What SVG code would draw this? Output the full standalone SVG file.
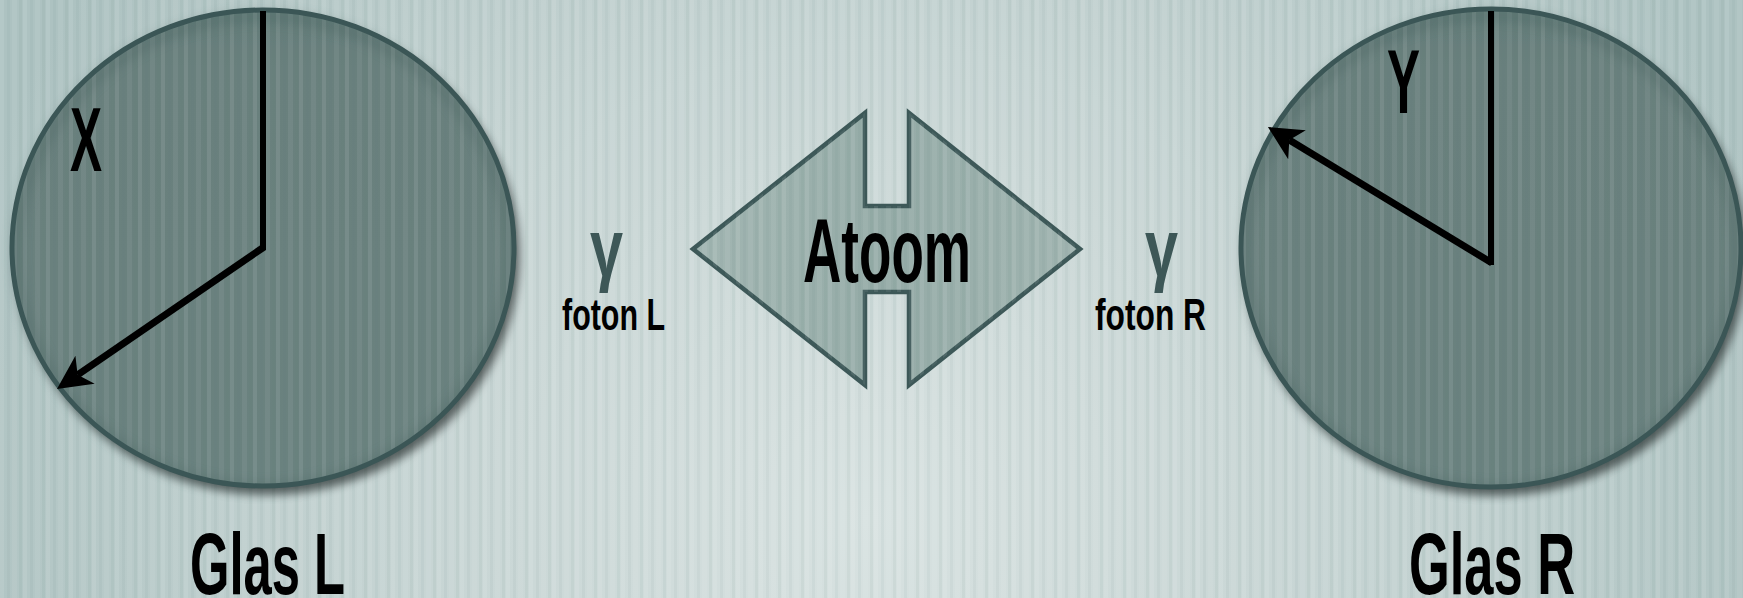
<svg xmlns="http://www.w3.org/2000/svg" width="1743" height="598" viewBox="0 0 1743 598">
<style>
.lbl{font-family:"Liberation Sans","DejaVu Sans",sans-serif;font-weight:bold;fill:#000}
.gam{font-family:"Liberation Sans","DejaVu Sans",sans-serif;font-weight:bold;fill:#3d5757}
.glass{stroke:#3b5656;stroke-width:5}
.hand{stroke:#000;fill:none;stroke-linecap:butt}
</style>
<defs>
<radialGradient id="bg" cx="870" cy="520" r="950" gradientUnits="userSpaceOnUse">
<stop offset="0" stop-color="#d8e2e1"/>
<stop offset="0.5" stop-color="#c6d4d3"/>
<stop offset="1" stop-color="#adc2c1"/>
</radialGradient>
<pattern id="stripes" width="23" height="10" patternUnits="userSpaceOnUse">
<rect x="0" y="0" width="4" height="10" fill="#ffffff" opacity="0.09"/>
<rect x="7" y="0" width="3" height="10" fill="#5a7a78" opacity="0.06"/>
<rect x="12" y="0" width="5" height="10" fill="#ffffff" opacity="0.06"/>
<rect x="19" y="0" width="3" height="10" fill="#5a7a78" opacity="0.07"/>
</pattern>
<linearGradient id="glassFill" x1="0" y1="0" x2="0" y2="1">
<stop offset="0" stop-color="#637b78"/>
<stop offset="0.12" stop-color="#69807d"/>
<stop offset="1" stop-color="#6b827f"/>
</linearGradient>
<linearGradient id="atomFill" x1="0" y1="0" x2="1" y2="0">
<stop offset="0" stop-color="#a2b6b2"/>
<stop offset="0.5" stop-color="#95aba7"/>
<stop offset="1" stop-color="#a0b4b0"/>
</linearGradient>
<filter id="shadow" x="-10%" y="-10%" width="125%" height="125%">
<feGaussianBlur in="SourceAlpha" stdDeviation="5"/>
<feOffset dx="5" dy="8" result="b"/>
<feComponentTransfer><feFuncA type="linear" slope="0.55"/></feComponentTransfer>
<feMerge><feMergeNode/><feMergeNode in="SourceGraphic"/></feMerge>
</filter>
<filter id="inner" x="-5%" y="-5%" width="110%" height="110%">
<feGaussianBlur stdDeviation="6"/>
</filter>
<marker id="head" markerUnits="userSpaceOnUse" markerWidth="60" markerHeight="60" refX="0" refY="0" orient="auto" overflow="visible" viewBox="-20 -30 60 60">
<path d="M25,0 L-9,-17 L0,0 L-9,17 Z" fill="#000"/>
</marker>
</defs>
<rect width="1743" height="598" fill="url(#bg)"/>
<rect width="1743" height="598" fill="url(#stripes)"/>

<g id="glas-l">
<g filter="url(#shadow)">
<ellipse cx="263" cy="248" rx="251" ry="238" fill="url(#glassFill)"/>
</g>
<ellipse cx="263" cy="248" rx="251" ry="238" fill="url(#stripes)"/>
<ellipse cx="263" cy="252" rx="246" ry="236" fill="none" stroke="#3f5a58" stroke-width="8" opacity="0.35" filter="url(#inner)"/>
<ellipse cx="263" cy="248" rx="251" ry="238" fill="none" class="glass"/>
<text class="lbl" x="70" y="171" font-size="90" textLength="32" lengthAdjust="spacingAndGlyphs">X</text>
</g>

<g id="glas-r">
<g filter="url(#shadow)">
<ellipse cx="1491" cy="248" rx="250" ry="239" fill="url(#glassFill)"/>
</g>
<ellipse cx="1491" cy="248" rx="250" ry="239" fill="url(#stripes)"/>
<ellipse cx="1491" cy="252" rx="245" ry="237" fill="none" stroke="#3f5a58" stroke-width="8" opacity="0.35" filter="url(#inner)"/>
<ellipse cx="1491" cy="248" rx="250" ry="239" fill="none" class="glass"/>
<text class="lbl" x="1387" y="113" font-size="90" textLength="33" lengthAdjust="spacingAndGlyphs">Y</text>
</g>

<g id="atoom">
<path d="M693,249 L865,113 L865,206 L909,206 L909,113 L1080,249 L909,385 L909,292 L865,292 L865,385 Z" fill="url(#atomFill)" stroke="#3d5858" stroke-width="4.5" stroke-linejoin="miter"/>
<path d="M693,249 L865,113 L865,206 L909,206 L909,113 L1080,249 L909,385 L909,292 L865,292 L865,385 Z" fill="url(#stripes)"/>
<text class="lbl" x="803" y="282" font-size="91" textLength="168" lengthAdjust="spacingAndGlyphs">Atoom</text>
</g>

<g id="foton-l">
<text class="gam" x="590" y="276" font-size="82" textLength="33" lengthAdjust="spacingAndGlyphs">γ</text>
<text class="lbl" x="562" y="330" font-size="44" textLength="103" lengthAdjust="spacingAndGlyphs">foton L</text>
</g>

<g id="foton-r">
<text class="gam" x="1145" y="276" font-size="82" textLength="33" lengthAdjust="spacingAndGlyphs">γ</text>
<text class="lbl" x="1095" y="330" font-size="44" textLength="111" lengthAdjust="spacingAndGlyphs">foton R</text>
</g>

<g id="label-glas-l">
<text class="lbl" x="190" y="594" font-size="87" textLength="155" lengthAdjust="spacingAndGlyphs">Glas L</text>
</g>
<g id="label-glas-r">
<text class="lbl" x="1409" y="594" font-size="87" textLength="166" lengthAdjust="spacingAndGlyphs">Glas R</text>
</g>

<g id="connectors">
<line class="hand" x1="263" y1="11" x2="263" y2="250" stroke-width="6"/>
<line class="hand" x1="264" y1="247" x2="77.6" y2="374.8" stroke-width="7" marker-end="url(#head)"/>
<line class="hand" x1="1491" y1="11" x2="1491" y2="265" stroke-width="6"/>
<line class="hand" x1="1492" y1="263" x2="1289.3" y2="140" stroke-width="7" marker-end="url(#head)"/>
</g>
</svg>
